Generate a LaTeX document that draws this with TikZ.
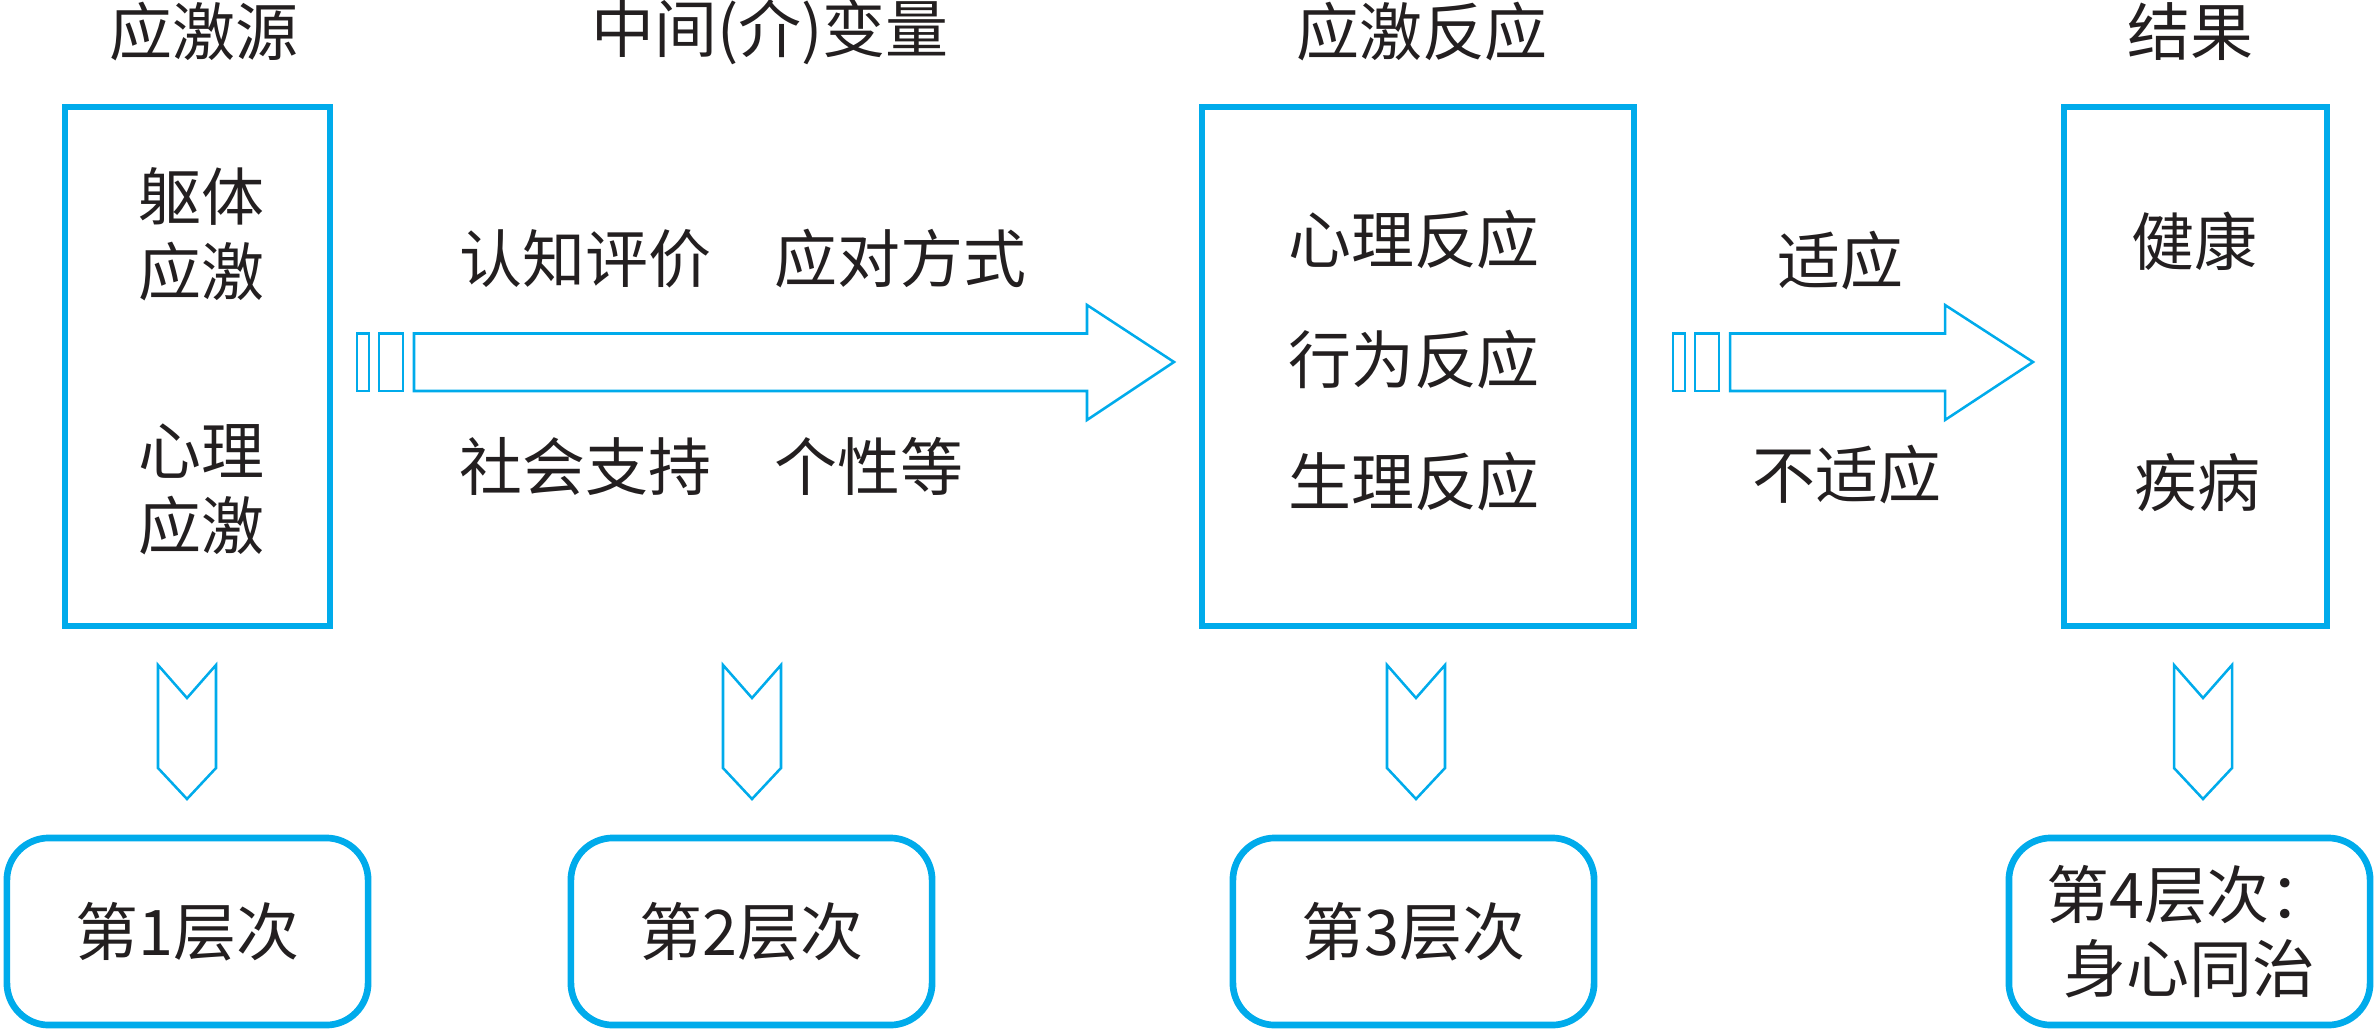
\documentclass[tikz,border=0pt]{standalone}
\usepackage{fontspec}
\newfontfamily\cjk{Noto Sans CJK SC}
\definecolor{skyblue}{RGB}{0,171,235}
\definecolor{ink}{RGB}{35,31,32}
\tikzset{frame/.style = {draw = skyblue, line width = 1.85pt, minimum width = 2.65cm, minimum height = 5.19cm, inner sep = 0}}
\tikzset{level/.style = {draw = skyblue, line width = 1.9pt, rounded corners = 0.42cm, minimum width = 3.61cm, minimum height = 1.87cm,
                         align = center, inner sep = 0, text = ink, font = \cjk\fontsize{17.9pt}{21.1pt}\selectfont}}
\tikzset{hollow/.style = {draw = skyblue, line width = 0.72pt, line join = miter}}
\tikzset{word/.style = {text = ink, inner sep = 0, align = center, font = \cjk\fontsize{17.9pt}{21.3pt}\selectfont}}

\begin{document}
\begin{tikzpicture}[x = 0.01cm, y = -0.01cm]
    \useasboundingbox (0,0) rectangle (2375,1033);
    % column titles
    \node[word] (title1) at (204,32) {应激源};
    \node[word] (title2) at (770,32) {中间(介)变量};
    \node[word] (title3) at (1422,32) {应激反应};
    \node[word] (title4) at (2190,32) {结果};
    % main boxes
    \node[frame] (source) at (197.5,366.5) {};
    \node[frame, minimum width = 4.32cm] (response) at (1418,366.5) {};
    \node[frame, minimum width = 2.63cm] (outcome) at (2195.5,366.5) {};
    \node[word] (body) at (201,234.5) {躯体\\应激};
    \node[word] (mind) at (201,489.5) {心理\\应激};
    \node[word] (psy) at (1414,240) {心理反应};
    \node[word] (act) at (1414,360) {行为反应};
    \node[word] (phy) at (1414,482) {生理反应};
    \node[word] (health) at (2194,241) {健康};
    \node[word] (ill) at (2197,483) {疾病};
    % mediators and adaptation
    \node[word, anchor = west] (appraisal) at (459,259) {认知评价\quad 应对方式};
    \node[word, anchor = west] (support) at (459,466) {社会支持\quad 个性等};
    \node[word] (adapt) at (1840,261) {适应};
    \node[word] (maladapt) at (1847,475) {不适应};
    % hollow block arrows
    \foreach \s/\hb/\tp in {357/1087/1174, 1673/1945/2033} {
        \draw[hollow] (\s,333.5) rectangle (\s+12,391);
        \draw[hollow] (\s+22,333.5) rectangle (\s+46,391);
        \draw[hollow] (\s+57,333.5) -- (\hb,333.5) -- (\hb,305) -- (\tp,362) -- (\hb,420) -- (\hb,391) -- (\s+57,391) -- cycle;
    }
    % chevrons down to the levels
    \foreach \cx in {187,752,1416,2203}
        \draw[hollow] (\cx-29,665) -- (\cx,698) -- (\cx+29,665) -- (\cx+29,768) -- (\cx,799) -- (\cx-29,768) -- cycle;
    % levels
    \node[level] (lvl1) at (187.5,931.5) {第1层次};
    \node[level] (lvl2) at (751.5,931.5) {第2层次};
    \node[level] (lvl3) at (1413.5,931.5) {第3层次};
    \node[level] (lvl4) at (2189.5,931.5) {第4层次：\\身心同治};
\end{tikzpicture}
\end{document}
